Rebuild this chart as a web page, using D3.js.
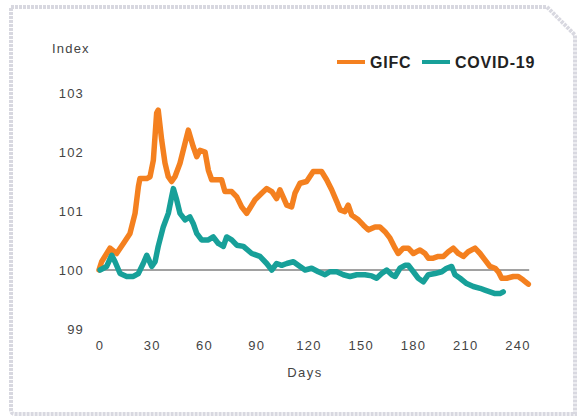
<!DOCTYPE html>
<html>
<head>
<meta charset="utf-8">
<script src="https://cdn.jsdelivr.net/npm/d3@7"></script>
<style>
  body { margin: 0; background: #fff; }
  svg text { font-family: "Liberation Sans", Arial, sans-serif; }
</style>
</head>
<body>
<svg id="chart" width="578" height="419"></svg>
<script>
// days since start of episode, index (start = 100)
const gfcDays = [0, 1.5, 6.3, 10.1, 14, 17.8, 20.7, 22.6, 23.5, 27.4, 29.3, 31.2, 33.1, 34, 36, 37.9, 39.8, 41.7,
  43.6, 46.5, 49.4, 51.3, 54.1, 56.1, 58, 60.9, 62.8, 64.7, 67.6, 70.4, 72.3, 76.2, 79.1, 81.9, 84.8, 86.7,
  89.6, 93.4, 96.3, 99.2, 102, 103.9, 107.8, 110.6, 112.5, 115.4, 119.2, 123, 127.8, 130.7, 133.6, 136.5,
  138.4, 141.2, 143.1, 145.1, 148.9, 151.8, 154.6, 158.5, 161.3, 164.2, 167.1, 170, 171.8, 174.7, 177.6,
  180.5, 184.3, 187.2, 189.1, 191.9, 194.8, 197.7, 200.6, 203.4, 206.3, 209.2, 212, 215.9, 218.8, 221.6,
  224.5, 227.4, 229.3, 231.2, 234.1, 237.9, 240.7, 243.6, 246.5]
const gfcValues = [100, 100.14, 100.37, 100.28, 100.45, 100.62, 100.96, 101.41, 101.55, 101.55, 101.58, 101.86,
  102.66, 102.71, 102.2, 101.81, 101.58, 101.5, 101.58, 101.81, 102.15, 102.37, 102.09, 101.92, 102.03, 102.0,
  101.69, 101.53, 101.53, 101.53, 101.33, 101.33, 101.24, 101.07, 100.96, 101.05, 101.19, 101.3, 101.38,
  101.33, 101.21, 101.36, 101.1, 101.07, 101.3, 101.47, 101.5, 101.67, 101.67, 101.53, 101.36, 101.16,
  101.02, 100.99, 101.1, 100.93, 100.85, 100.76, 100.68, 100.73, 100.73, 100.65, 100.54, 100.37, 100.28,
  100.37, 100.37, 100.28, 100.34, 100.28, 100.2, 100.2, 100.23, 100.23, 100.31, 100.37, 100.28, 100.23,
  100.31, 100.37, 100.28, 100.17, 100.06, 100.03, 99.97, 99.86, 99.86, 99.89, 99.89, 99.83, 99.76]

const covidDays = [0.6, 4.4, 7.3, 9.2, 12.1, 15.9, 19.7, 22.6, 25.4, 27.4, 30.3, 32.2, 34, 36.9, 39.8, 41.7,
  42.7, 44.6, 46.5, 49.4, 52.2, 54.1, 56.1, 58.9, 62.8, 65.6, 68.5, 71.4, 73.3, 76.2, 79.1, 82.9, 87.7, 92.4,
  96.3, 99.2, 102, 104.9, 107.8, 111.6, 114.4, 118.3, 122.1, 125.9, 129.8, 132.6, 136.5, 140.3, 144.1, 148,
  152.7, 156.6, 159.4, 162.3, 165.2, 168.1, 170, 172.8, 175.7, 177.6, 180.5, 183.3, 186.2, 189.1, 192.9,
  196.8, 199.6, 202.5, 204.4, 207.3, 211.1, 214.9, 218.8, 221.6, 224.5, 227.4, 230.2, 232.1]
const covidValues = [100, 100.06, 100.25, 100.14, 99.94, 99.89, 99.89, 99.94, 100.11, 100.25, 100.06, 100.14,
  100.4, 100.73, 100.96, 101.24, 101.38, 101.19, 100.96, 100.85, 100.9, 100.79, 100.62, 100.51, 100.51,
  100.56, 100.45, 100.4, 100.56, 100.51, 100.42, 100.4, 100.28, 100.23, 100.11, 100.0, 100.11, 100.08,
  100.11, 100.14, 100.08, 100.0, 100.03, 99.97, 99.92, 99.97, 99.97, 99.92, 99.89, 99.92, 99.92, 99.9,
  99.86, 99.94, 100.0, 99.92, 99.89, 100.03, 100.08, 100.08, 99.97, 99.86, 99.8, 99.92, 99.94, 99.97,
  100.03, 100.06, 99.92, 99.86, 99.77, 99.72, 99.69, 99.66, 99.63, 99.6, 99.6, 99.63]

const xTicks = [0, 30, 60, 90, 120, 150, 180, 210, 240]
const yTicks = [99, 100, 101, 102, 103]
const seriesNames = ['GIFC', 'COVID-19']
const colors = ['#f4801f', '#17a099']

let svg = d3.select('#chart')

// light frame with cut top-right corner
svg.append('path')
    .attr('d', 'M11,7 L547,7 L575,35 L575,414 L15,414 Q11,414 11,410 Z')
    .attr('fill', '#fff')
    .attr('stroke', '#d8d8e0')
    .attr('stroke-width', 4)
    .attr('stroke-dasharray', '3,1')

let x = d3.scaleLinear().domain([0, 240]).range([99, 517])
let y = d3.scaleLinear().domain([99, 103]).range([329, 93])

// axis labels
svg.append('g').selectAll('text')
    .data(yTicks).enter()
    .append('text')
        .attr('x', 84)
        .attr('y', d => y(d))
        .attr('dy', '0.35em')
        .attr('text-anchor', 'end')
        .attr('font-size', 13)
        .attr('letter-spacing', 1.2)
        .attr('fill', '#444')
        .text(d => d)

svg.append('g').selectAll('text')
    .data(xTicks).enter()
    .append('text')
        .attr('x', d => x(d) + 1)
        .attr('y', 345)
        .attr('dy', '0.35em')
        .attr('text-anchor', 'middle')
        .attr('font-size', 13)
        .attr('letter-spacing', 1.2)
        .attr('fill', '#444')
        .text(d => d)

svg.append('text')
    .attr('x', 52).attr('y', 48).attr('dy', '0.35em')
    .attr('font-size', 13).attr('letter-spacing', 1.2).attr('fill', '#444')
    .text('Index')

svg.append('text')
    .attr('x', 305).attr('y', 372).attr('dy', '0.35em')
    .attr('text-anchor', 'middle')
    .attr('font-size', 13).attr('letter-spacing', 1.5).attr('fill', '#444')
    .text('Days')

// 100 reference line
svg.append('line')
    .attr('x1', x(-1)).attr('x2', x(247))
    .attr('y1', y(100)).attr('y2', y(100))
    .attr('stroke', '#444')
    .attr('stroke-width', 1)

let line = d3.line().x(d => x(d[0])).y(d => y(d[1]))

let series = [
    d3.zip(gfcDays, gfcValues),
    d3.zip(covidDays, covidValues)
]

series.forEach((s, i) => {
    svg.append('path')
        .datum(s)
        .attr('d', line)
        .attr('fill', 'none')
        .attr('stroke', colors[i])
        .attr('stroke-width', 5.5)
        .attr('stroke-linejoin', 'round')
        .attr('stroke-linecap', 'round')
})

// legend
let legendX = [337, 422]
seriesNames.forEach((name, i) => {
    svg.append('line')
        .attr('x1', legendX[i]).attr('x2', legendX[i] + 28)
        .attr('y1', 62).attr('y2', 62)
        .attr('stroke', colors[i])
        .attr('stroke-width', 4)
    svg.append('text')
        .attr('x', legendX[i] + 33).attr('y', 62).attr('dy', '0.36em')
        .attr('font-size', 16).attr('font-weight', 'bold')
        .attr('letter-spacing', 0.8)
        .attr('fill', '#222')
        .text(name)
})
</script>
</body>
</html>
